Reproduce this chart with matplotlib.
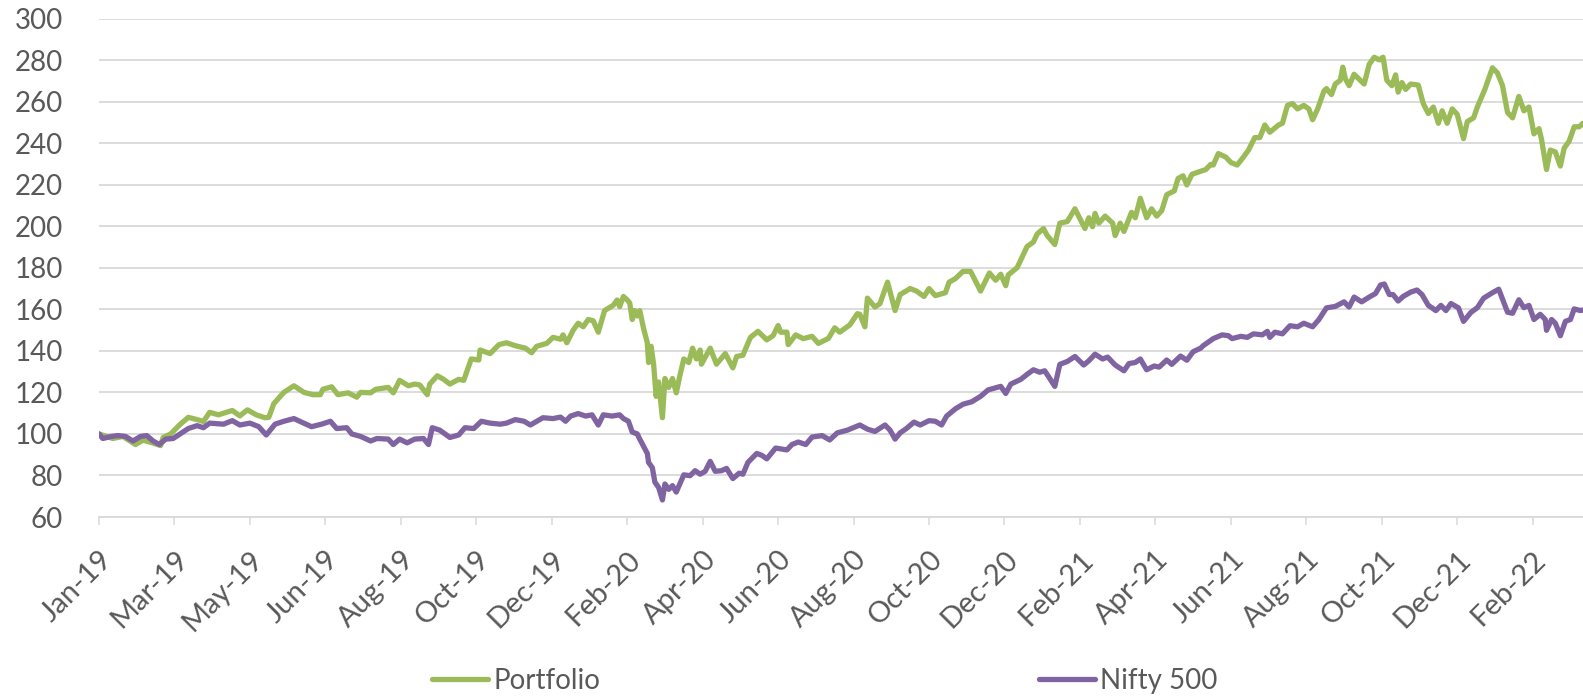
import numpy as np
import matplotlib
matplotlib.use("Agg")
import matplotlib.pyplot as plt
import matplotlib.transforms as mtransforms

plt.rcParams['font.family'] = ['Lato', 'DejaVu Sans']

START = np.datetime64('2019-01-01')

# Portfolio: days since 1 Jan 2019 and index value (base 100)
portfolio_day = [
    0, 11, 19, 29, 35, 43, 49, 51, 57, 64, 71, 78, 83, 88, 95, 106, 112, 118, 125, 132,
    135, 139, 147, 155, 163, 170, 176, 178, 185, 190, 198, 205, 208, 216, 220, 230, 234, 239, 246, 251,
    255, 261, 263, 269, 274, 279, 286, 290, 293, 296, 302, 303, 311, 318, 324, 331, 339, 344, 348, 356,
    361, 367, 369, 372, 377, 381, 385, 389, 393, 397, 402, 409, 412, 414, 417, 420, 422, 424, 426, 428,
    430, 433, 436, 437, 439, 441, 443, 445, 448, 450, 453, 456, 459, 462, 465, 469, 472, 475, 478, 479,
    486, 491, 498, 504, 507, 512, 518, 524, 531, 536, 540, 542, 547, 548, 554, 560, 567, 572, 580, 585,
    589, 597, 603, 605, 609, 611, 617, 621, 627, 633, 637, 645, 650, 656, 660, 665, 673, 676, 681, 687,
    693, 701, 708, 713, 717, 721, 723, 730, 738, 743, 746, 751, 754, 760, 764, 770, 776, 784, 787, 790,
    792, 795, 800, 806, 808, 812, 815, 821, 824, 828, 833, 837, 841, 845, 849, 855, 858, 862, 865, 869,
    876, 880, 884, 886, 890, 896, 900, 905, 910, 914, 919, 923, 927, 931, 938, 941, 945, 949, 953, 958,
    962, 965, 969, 974, 976, 980, 983, 987, 989, 991, 994, 998, 1000, 1006, 1010, 1014, 1018, 1021, 1024, 1028,
    1031, 1033, 1036, 1039, 1043, 1049, 1053, 1057, 1061, 1065, 1068, 1072, 1076, 1080, 1085, 1088, 1093, 1096, 1102, 1108,
    1112, 1116, 1120, 1124, 1129, 1133, 1137, 1141, 1145, 1147, 1151, 1154, 1158, 1162, 1165, 1169, 1173, 1177, 1180,
]
portfolio_value = [
    100, 97.8, 98.8, 94.9, 97, 95.6, 94.4, 98.3, 100, 104.3, 108, 106.9, 106, 110.4, 109.2, 111.3, 108.7, 111.6, 109.2, 107.8,
    108, 114.6, 120, 123.2, 120, 118.9, 118.9, 121.5, 122.7, 118.9, 119.8, 117.7, 120, 119.8, 121.5, 122.4, 119.8, 125.8, 123.2, 124,
    123.6, 118.9, 124, 128, 126.3, 124, 126.3, 125.8, 131, 136.1, 135.6, 140.4, 138.7, 143, 143.9, 142.5, 141.3, 139.1, 142.2, 143.6,
    146.5, 145.6, 147.7, 143.9, 149.9, 153.3, 151.6, 155.1, 154.5, 149, 159.4, 162, 164.5, 161.3, 166.2, 164.5, 163.1, 155.1, 159.4, 156.8,
    159.4, 150.8, 143.9, 134.4, 142.2, 133.6, 118.1, 125, 107.8, 126.7, 122.4, 126.7, 119.8, 128.4, 136.1, 134.4, 141.3, 136.1, 140.4, 133.6,
    141.3, 133.6, 138.7, 131.8, 137.3, 137.9, 146.5, 149.4, 145.3, 147.3, 152.2, 149, 149, 143, 147.7, 145.9, 147, 143.6, 146, 151.1,
    149, 152.5, 157.9, 157.6, 151.6, 165.4, 161.1, 162.8, 173.1, 159.4, 167.1, 170, 168.8, 166.2, 170, 166.6, 168, 173.1, 174.8, 178.3,
    178.3, 168.8, 177.5, 174, 176.9, 171.4, 176.6, 180, 190.3, 192.4, 196.3, 198.9, 195.5, 191.2, 201.5, 202.3, 208.4, 198.9, 204.1, 199.8,
    206.2, 201.5, 204.9, 201.5, 195.5, 201.5, 197.5, 206.7, 204.1, 213.5, 204.1, 208.4, 204.9, 207.5, 215.2, 217, 223, 224.3, 219.9, 225,
    226.5, 227.3, 229.8, 229.5, 235, 233.3, 230.7, 229.5, 233.3, 236.7, 242.7, 242.7, 248.8, 245.3, 248.8, 249.6, 258.2, 259.1, 256.5, 258.2,
    256.5, 251.3, 256.5, 265.1, 266.3, 263.4, 268.5, 270.3, 276.6, 271.1, 267.7, 273.2, 272, 268.5, 278, 281.4, 280.1, 281.4, 270.3, 267.7,
    272.9, 264.6, 269.2, 265.9, 268.5, 268, 259.1, 254.3, 257.4, 249.6, 255.6, 249.6, 256.5, 253.9, 242.2, 250.4, 252.2, 257.4, 266, 276.3,
    273.8, 267.7, 254.8, 252.2, 262.5, 255.6, 257.4, 244.5, 247, 241.9, 227.3, 236.7, 235.8, 229, 237.6, 241, 247.9, 247.9, 249.6,
]

# Nifty 500: days since 1 Jan 2019 and index value (base 100)
nifty_day = [
    0, 3, 10, 15, 21, 27, 33, 38, 43, 48, 53, 59, 66, 71, 78, 83, 88, 99, 106, 112,
    120, 127, 133, 140, 147, 155, 161, 169, 177, 184, 189, 197, 201, 208, 216, 221, 230, 234, 239, 245,
    251, 258, 262, 265, 271, 279, 286, 291, 298, 304, 311, 319, 324, 331, 338, 343, 353, 361, 367, 371,
    375, 381, 387, 392, 397, 401, 408, 414, 417, 421, 424, 428, 430, 436, 437, 440, 442, 445, 448, 450,
    453, 456, 459, 465, 470, 474, 478, 482, 486, 490, 495, 499, 504, 509, 512, 516, 523, 527, 531, 538,
    547, 551, 556, 562, 567, 575, 581, 587, 595, 605, 611, 617, 625, 629, 633, 637, 642, 648, 653, 660,
    665, 670, 674, 681, 687, 694, 701, 707, 717, 721, 725, 733, 738, 743, 748, 752, 756, 760, 764, 770,
    776, 783, 787, 792, 798, 802, 808, 815, 819, 824, 828, 833, 839, 843, 849, 853, 860, 865, 870, 876,
    878, 882, 886, 893, 898, 901, 908, 913, 918, 925, 929, 931, 935, 941, 947, 953, 958, 965, 970, 976,
    983, 990, 994, 998, 1004, 1010, 1015, 1019, 1022, 1026, 1029, 1033, 1037, 1043, 1048, 1052, 1057, 1063, 1067, 1071,
    1075, 1081, 1085, 1091, 1096, 1101, 1108, 1113, 1120, 1124, 1129, 1133, 1137, 1141, 1146, 1150, 1151, 1155, 1158, 1162,
    1166, 1170, 1173, 1178, 1180,
]
nifty_value = [
    100, 97.8, 98.8, 99.2, 98.8, 96.6, 98.8, 99.2, 96.6, 94.9, 97.5, 97.8, 100.6, 102.6, 104, 103, 105.2, 104.7, 106.4, 104.3,
    105.2, 103.5, 99.5, 104.7, 106.1, 107.4, 105.7, 103.5, 104.7, 106.1, 102.6, 103, 100, 98.8, 96.6, 97.8, 97.5, 94.9, 97.5, 95.7,
    97.5, 97.8, 94.9, 103, 101.8, 98.3, 99.5, 103, 102.6, 106.1, 105.2, 104.7, 105.2, 106.9, 106.1, 104.3, 107.8, 107.4, 108.1, 106.1,
    108.6, 109.8, 108.6, 109.2, 104.3, 109.2, 108.6, 109.2, 107.4, 106.1, 100.9, 100, 97.5, 90.6, 86.3, 83.7, 76.8, 74.2, 68.2, 75.9,
    73.3, 75.1, 72, 80.3, 79.9, 82.3, 80.6, 82, 86.8, 82, 82.3, 83.4, 78.5, 81.1, 80.6, 86.3, 90.6, 89.7, 88, 93.2,
    92.3, 94.9, 96.1, 94.9, 98.5, 99.2, 97.1, 100.5, 101.8, 104.3, 102.3, 101.2, 104.3, 101.8, 97.5, 100.5, 102.6, 105.7, 104.3, 106.4,
    106.1, 104.3, 108.6, 112.1, 114.3, 115.5, 118.1, 121.2, 122.9, 119.5, 124, 126.3, 128.7, 130.9, 129.7, 130.4, 126.7, 122.9, 133.5, 134.9,
    137.3, 133.2, 135.2, 138.4, 136.1, 137, 133.2, 130.4, 133.9, 134.4, 136.1, 130.9, 132.7, 132.2, 135.6, 133.5, 137.5, 135.5, 139.6, 141.3,
    142.5, 144.2, 145.9, 147.7, 147.3, 145.9, 147, 146.5, 148.2, 147.7, 149.4, 146.5, 149, 148.2, 152.1, 151.6, 153.3, 151.6, 155.1, 160.7,
    161.4, 163.6, 161.1, 165.9, 163.6, 165.9, 167.6, 171.7, 172.2, 167.1, 167.1, 164, 166.2, 168.3, 169.3, 167.1, 161.9, 159.4, 161.9, 159.4,
    162.8, 160.7, 154.2, 158.6, 160.8, 165.4, 168, 169.7, 158.6, 158.1, 164.6, 160.8, 161.9, 155.1, 157.6, 155.1, 149.9, 155.1, 153.3, 147.3,
    154.2, 155.1, 160.2, 159.4, 159.7,
]

# Date axis: one major tick every 60 days from the start date
tick_step_days = 60
tick_labels = [
    'Jan-19', 'Mar-19', 'May-19', 'Jun-19', 'Aug-19', 'Oct-19', 'Dec-19', 'Feb-20', 'Apr-20', 'Jun-20',
    'Aug-20', 'Oct-20', 'Dec-20', 'Feb-21', 'Apr-21', 'Jun-21', 'Aug-21', 'Oct-21', 'Dec-21', 'Feb-22',
]
end_day = 1180
y_ticks = list(range(60, 301, 20))

GREEN = '#9BBB59'
PURPLE = '#8064A2'
GRID = '#D9D9D9'
TEXT = '#595959'


def to_dates(days):
    return START + np.array(days).astype('timedelta64[D]')


fig = plt.figure(figsize=(15.83, 6.98), dpi=100)
ax = fig.add_axes([99 / 1583, 181 / 698, 1 - 99 / 1583, (679.4 - 181) / 698])

ax.plot(to_dates(portfolio_day), portfolio_value, color=GREEN, lw=3.8,
        solid_joinstyle='round', solid_capstyle='round', label='Portfolio', zorder=3)
ax.plot(to_dates(nifty_day), nifty_value, color=PURPLE, lw=3.8,
        solid_joinstyle='round', solid_capstyle='round', label='Nifty 500', zorder=3)

ax.set_ylim(60, 300)
ax.set_yticks(y_ticks)
ax.set_xlim(START, START + np.timedelta64(end_day, 'D'))
tick_dates = to_dates([i * tick_step_days for i in range(len(tick_labels))])
ax.set_xticks(tick_dates)
ax.set_xticklabels(tick_labels, rotation=45, ha='right', va='top',
                   rotation_mode='anchor', fontsize=21, color=TEXT)
shift = mtransforms.ScaledTranslation(4 / 72, 0, fig.dpi_scale_trans)
for lbl in ax.get_xticklabels():
    lbl.set_transform(lbl.get_transform() + shift)

ax.yaxis.grid(True, color=GRID, lw=1.3)
ax.set_axisbelow(True)
for side in ('left', 'right', 'top'):
    ax.spines[side].set_visible(False)
ax.spines['bottom'].set_color(GRID)
ax.spines['bottom'].set_linewidth(1.3)
ax.tick_params(axis='y', length=0, pad=26, labelsize=20, labelcolor=TEXT)
ax.tick_params(axis='x', length=6, width=1.1, color=GRID, pad=15)

fig.legend(loc='center', bbox_to_anchor=(825 / 1583, 1 - 681 / 698), ncol=2,
           frameon=False, fontsize=20, labelcolor=TEXT, handlelength=2.0,
           handletextpad=0.2, columnspacing=15.8)

fig.savefig('out.png', dpi=100)
